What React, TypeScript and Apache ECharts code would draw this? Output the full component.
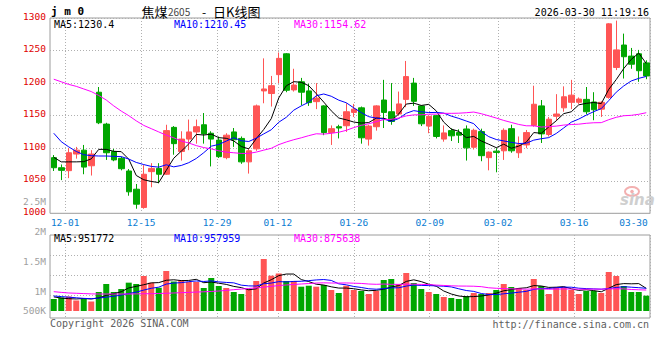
import React, { useEffect, useRef } from "react";
import * as echarts from "echarts";

// ---------- data ----------
const dates = [
  "11-27", "11-28",
  "12-01", "12-02", "12-03", "12-04", "12-05", "12-08", "12-09", "12-10", "12-11", "12-12",
  "12-15", "12-16", "12-17", "12-18", "12-19", "12-22", "12-23", "12-24", "12-25", "12-26",
  "12-29", "12-30", "12-31",
  "01-05", "01-06", "01-07", "01-08", "01-09",
  "01-12", "01-13", "01-14", "01-15", "01-16", "01-19", "01-20", "01-21", "01-22", "01-23",
  "01-26", "01-27", "01-28", "01-29", "01-30",
  "02-02", "02-03", "02-04", "02-05", "02-06",
  "02-09", "02-10", "02-11", "02-12", "02-13",
  "02-24", "02-25", "02-26", "02-27",
  "03-02", "03-03", "03-04", "03-05", "03-06", "03-09", "03-10", "03-11", "03-12", "03-13",
  "03-16", "03-17", "03-18", "03-19", "03-20", "03-23", "03-24", "03-25", "03-26", "03-27",
  "03-30",
];

const labelDates = ["12-01", "12-15", "12-29", "01-12", "01-26", "02-09", "03-02", "03-16", "03-30"];

const opens = [
  1085.5, 1070, 1065.5, 1091, 1097, 1073, 1186, 1137, 1095, 1084.5,
  1065, 1037, 1009, 1064, 1069, 1060, 1132, 1095, 1114, 1125,
  1136, 1123, 1112.5, 1085.5, 1125, 1115, 1079, 1099, 1188, 1184,
  1213, 1245, 1189.5, 1202, 1188, 1171.5, 1165, 1124, 1133, 1134.5,
  1155, 1162, 1114, 1133, 1174, 1156, 1152.5, 1175, 1200, 1165,
  1134, 1150, 1114, 1127, 1124, 1129.5, 1101.5, 1125.5, 1085.5, 1095.5,
  1096, 1130, 1093, 1105, 1135, 1165, 1121, 1149, 1162, 1170.5,
  1170.5, 1175, 1171, 1160, 1178, 1224, 1258.5, 1241.5, 1245, 1231,
];
const closes = [
  1070, 1066, 1093, 1097, 1071, 1091, 1139, 1093, 1082, 1068.5,
  1033, 1014, 1060, 1069, 1060, 1127, 1107, 1114, 1125, 1133,
  1122, 1114, 1087, 1120, 1113, 1079, 1096, 1165, 1191, 1196,
  1238, 1189, 1197, 1186, 1170, 1177, 1124, 1130, 1131, 1156,
  1160, 1116, 1134, 1165, 1155, 1141, 1168, 1210, 1172, 1137.5,
  1149, 1118, 1123.5, 1119, 1120, 1100.5, 1127.5, 1088.5, 1094, 1093.5,
  1127.5, 1096, 1105, 1124, 1167.5, 1122, 1144.5, 1152.5, 1179, 1181.5,
  1175.5, 1156, 1159, 1170.5, 1291, 1251, 1240.5, 1229, 1219, 1211,
];
const lows = [
  1065, 1051, 1054, 1084, 1060, 1058, 1137, 1082, 1080, 1066,
  1027, 1007, 1007, 1040, 1046, 1059, 1090, 1081, 1097, 1107,
  1107, 1072, 1085, 1083, 1102, 1076, 1061, 1096, 1169, 1164,
  1200, 1186, 1187, 1166, 1165, 1160, 1120, 1105, 1115, 1125,
  1148, 1107, 1104, 1127, 1131, 1136, 1150, 1163, 1165, 1134,
  1123, 1115, 1110, 1111, 1108, 1081, 1098, 1080, 1066, 1063,
  1082, 1093, 1085, 1100, 1133, 1108, 1118, 1142, 1156, 1160,
  1168, 1152, 1143, 1148, 1176, 1220, 1207, 1222, 1202, 1206,
];
const highs = [
  1089.5, 1075, 1100, 1102, 1105, 1097, 1194, 1139, 1099, 1087,
  1068, 1045, 1074, 1077, 1077, 1136, 1134, 1126, 1144, 1144,
  1154, 1126, 1118, 1123, 1131, 1118, 1100, 1167, 1238, 1211,
  1247, 1246, 1222, 1208, 1199, 1200, 1166, 1135, 1136, 1169,
  1168, 1164, 1136, 1166, 1205, 1200, 1187, 1234, 1208, 1166,
  1150, 1151, 1135, 1130.5, 1129, 1135, 1130, 1130, 1095, 1100,
  1130.5, 1136, 1118, 1128, 1196, 1174, 1148, 1183, 1195, 1205,
  1178, 1194, 1186, 1172, 1292, 1296, 1276, 1254, 1251, 1235,
];
const volumes = [
  867000, 892000, 908000, 842000, 867000, 825000, 983000, 1117000, 983000, 1033000,
  1139000, 1117000, 1250000, 1139000, 1055000, 1333000, 1158000, 1183000, 1150000, 1150000,
  1050000, 1217000, 1083000, 1050000, 983000, 950000, 1033000, 1167000, 1533000, 1255000,
  1292000, 1167000, 1167000, 1072000, 1088000, 1072000, 1100000, 1017000, 967000, 1088000,
  1017000, 1000000, 950000, 1000000, 1183000, 1200000, 1117000, 1300000, 1133000, 1033000,
  983000, 950000, 900000, 883000, 867000, 917000, 967000, 950000, 967000, 1017000,
  1117000, 1067000, 1050000, 1017000, 1200000, 1083000, 950000, 1067000, 1067000, 1017000,
  950000, 1000000, 1000000, 967000, 1317000, 1250000, 1083000, 983000, 983000, 922000,
];

// moving-average values for the first days, whose windows reach before the visible range
const ma5Lead = [1086, 1079, 1079, 1079];
const ma10Lead = [1123, 1110, 1102, 1095, 1090, 1088.5, 1088, 1088, 1087.5];
const ma30Lead = [
  1206, 1202, 1198, 1195, 1191, 1187, 1181, 1174, 1165, 1157,
  1150, 1142, 1135, 1130, 1125, 1120, 1116, 1111, 1108, 1104,
  1101, 1099, 1096, 1094, 1093, 1092, 1092, 1094, 1097,
];
const vma5Lead = [902000, 882000, 872000, 867000];
const vma10Lead = [917000, 907000, 897000, 887000, 877000, 872000, 882000, 897000, 912000];
const vma30Lead = [
  989000, 977000, 967000, 962000, 957000, 952000, 950000, 950000, 950000, 950000,
  950000, 952000, 954000, 955000, 959000, 962000, 967000, 972000, 977000, 982000,
  987000, 992000, 1000000, 1010000, 1022000, 1032000, 1042000, 1052000, 1065000,
];

const priceMin = 1000;
const priceMax = 1300;
const priceStep = 50;
const volLabelMin = 500000;
const volLabelMax = 2500000;
const volLabelStep = 500000;

const headerTitleParts = ["焦煤", "2605", "-", "日K线图"];
const headerCode = "j m 0";
const headerTime = "2026-03-30 11:19:16";
const priceMaTexts = ["MA5:1230.4", "MA10:1210.45", "MA30:1154.62"];
const volMaTexts = ["MA5:951772", "MA10:957959", "MA30:875638"];

// ---------- helpers ----------
function movingAverage(values: number[], n: number, lead: number[]) {
  return values.map((_, i) => {
    if (i < n - 1) return lead[i];
    let s = 0;
    for (let k = i - n + 1; k <= i; k++) s += values[k];
    return Math.round((s / n) * 100) / 100;
  });
}

const RED = "#ff5555";
const GREEN = "#00a600";
const MONO = "'DejaVu Sans Mono', 'Liberation Mono', monospace";
const CJK = "'Noto Sans CJK SC', sans-serif";
const DOT = { color: "#b0b0b0", width: 1, type: [1, 2] as any };
const BORDER = "#9c9c9c";

function buildOption(): any {
  const labelSet = new Set(labelDates);
  const showLabel = (_i: number, v: string) => labelSet.has(v);
  const lastDate = dates[dates.length - 1];

  const candle = dates.map((_, i) => [opens[i], closes[i], lows[i], highs[i]]);
  const ma5 = movingAverage(closes, 5, ma5Lead);
  const ma10 = movingAverage(closes, 10, ma10Lead);
  const ma30 = movingAverage(closes, 30, ma30Lead);
  const vma5 = movingAverage(volumes, 5, vma5Lead);
  const vma10 = movingAverage(volumes, 10, vma10Lead);
  const vma30 = movingAverage(volumes, 30, vma30Lead);
  const volBars = volumes.map((v, i) => ({
    value: v,
    itemStyle: { color: closes[i] >= opens[i] ? RED : GREEN },
  }));

  // volume panel: 60px per 1,000,000, bar base at y=311
  const volBase = 1000000 - (20 / 60) * 1000000;
  const volTop = 1000000 + (56 / 60) * 1000000;

  const text = (t: string, x: number, y: number, fill: string, font: string, align = "left") => ({
    type: "text",
    x,
    y,
    silent: true,
    z: 10,
    style: {
      text: t,
      fill,
      font,
      align,
      verticalAlign: "middle",
      textAlign: align,
      textVerticalAlign: "middle",
    },
  });

  const lineSeries = (name: string, data: number[], color: string, xi: number, yi: number) => ({
    name,
    type: "line",
    xAxisIndex: xi,
    yAxisIndex: yi,
    data,
    symbol: "none",
    showSymbol: false,
    smooth: false,
    clip: true,
    lineStyle: { color, width: 1 },
    itemStyle: { color },
    silent: true,
    z: 3,
  });

  const hiddenCat = (gridIndex: number, boundaryGap: boolean) => ({
    gridIndex,
    type: "category",
    position: "bottom",
    data: dates,
    boundaryGap,
    show: false,
  });

  return {
    animation: false,
    backgroundColor: "#ffffff",
    grid: [
      { left: 50, top: 18, width: 600, height: 195.3, show: true, borderColor: BORDER, borderWidth: 1, backgroundColor: "transparent", outerBoundsMode: "none" },
      { left: 50, top: 235, width: 600, height: 83, show: true, borderColor: BORDER, borderWidth: 1, backgroundColor: "transparent", outerBoundsMode: "none" },
      { left: 50, top: 235, width: 600, height: 76, outerBoundsMode: "none" },
      { left: 50, top: 255, width: 600, height: 40, outerBoundsMode: "none" },
      { left: 50, top: 201, width: 600, height: 120, outerBoundsMode: "none" },
    ],
    xAxis: [
      hiddenCat(0, true),
      {
        gridIndex: 0,
        type: "category",
        position: "bottom",
        offset: 0,
        data: dates,
        boundaryGap: false,
        axisLine: { show: false },
        axisTick: { show: false },
        axisLabel: {
          interval: showLabel,
          color: "#0a7cd2",
          fontFamily: MONO,
          fontSize: 9.5,
          margin: 4,
          formatter: (v: string) => (v === lastDate ? `{r|${v}}` : v),
          rich: { r: { padding: [0, 33, 0, 0], color: "#0a7cd2", fontFamily: MONO, fontSize: 9.5 } },
        },
        splitLine: { show: true, interval: showLabel, lineStyle: DOT },
      },
      {
        gridIndex: 1,
        type: "category",
        position: "bottom",
        data: dates,
        boundaryGap: false,
        axisLine: { show: false },
        axisTick: { show: false },
        axisLabel: { show: false },
        splitLine: { show: true, interval: showLabel, lineStyle: DOT },
      },
      hiddenCat(2, true),
      hiddenCat(3, true),
      hiddenCat(4, true),
    ],
    yAxis: [
      {
        gridIndex: 0,
        type: "value",
        position: "left",
        min: priceMin,
        max: priceMax,
        interval: priceStep,
        axisLine: { show: false },
        axisTick: { show: false },
        axisLabel: {
          color: "#e00000",
          fontFamily: MONO,
          fontSize: 9.5,
          margin: 4,
          formatter: (v: number) => `{a|${v}}`,
          rich: { a: { padding: [0, 0, 4, 0], color: "#e00000", fontFamily: MONO, fontSize: 9.5 } },
        },
        splitLine: { show: true, lineStyle: DOT },
      },
      { gridIndex: 1, type: "value", show: false },
      { gridIndex: 2, type: "value", min: volBase, max: volTop, show: false },
      {
        gridIndex: 3,
        type: "value",
        min: 0,
        max: 2,
        interval: 1,
        axisLine: { show: false },
        axisTick: { show: false },
        axisLabel: { show: false },
        splitLine: { show: true, lineStyle: DOT },
      },
      {
        gridIndex: 4,
        type: "value",
        position: "left",
        min: volLabelMin,
        max: volLabelMax,
        interval: volLabelStep,
        axisLine: { show: false },
        axisTick: { show: false },
        splitLine: { show: false },
        axisLabel: {
          color: "#a0a0a0",
          fontFamily: MONO,
          fontSize: 9.5,
          margin: 4,
          formatter: (v: number) =>
            v >= 1000000 ? `{a|${v / 1000000}M}` : `{b|${v / 1000}K}`,
          rich: {
            a: { color: "#a0a0a0", fontFamily: MONO, fontSize: 9.5 },
            b: { color: "#a0a0a0", fontFamily: MONO, fontSize: 9.5, padding: [0, 0, 22, 0] },
          },
        },
      },
    ],
    series: [
      {
        name: "K",
        type: "candlestick",
        xAxisIndex: 0,
        yAxisIndex: 0,
        data: candle,
        barWidth: 6,
        silent: true,
        itemStyle: { color: RED, color0: GREEN, borderColor: RED, borderColor0: GREEN, borderWidth: 1 },
        z: 2,
      },
      lineSeries("MA5", ma5, "#000000", 0, 0),
      lineSeries("MA10", ma10, "#0000ff", 0, 0),
      lineSeries("MA30", ma30, "#ff00ff", 0, 0),
      {
        name: "VOL",
        type: "bar",
        xAxisIndex: 3,
        yAxisIndex: 2,
        data: volBars,
        barWidth: 6,
        clip: true,
        silent: true,
        z: 2,
      },
      lineSeries("VMA5", vma5, "#000000", 3, 2),
      lineSeries("VMA10", vma10, "#0000ff", 3, 2),
      lineSeries("VMA30", vma30, "#ff00ff", 3, 2),
    ],
    graphic: [
      text(headerCode, 51, 11.5, "#000000", `bold 11px ${MONO}`),
      text(headerTitleParts[0], 141.5, 11, "#000000", `13px ${CJK}`),
      text(headerTitleParts[1], 168, 11.5, "#454545", `10px ${CJK}`),
      text(headerTitleParts[2], 202, 11, "#000000", `12px ${CJK}`),
      text(headerTitleParts[3], 213, 11, "#000000", `13px ${CJK}`),
      text(headerTime, 649, 12, "#000000", `10px ${MONO}`, "right"),
      text(priceMaTexts[0], 54, 24.5, "#000000", `10px ${MONO}`),
      text(priceMaTexts[1], 174, 24.5, "#0000ff", `10px ${MONO}`),
      text(priceMaTexts[2], 294, 24.5, "#ff00ff", `10px ${MONO}`),
      text(volMaTexts[0], 54, 238.5, "#000000", `10px ${MONO}`),
      text(volMaTexts[1], 174, 238.5, "#0000ff", `10px ${MONO}`),
      text(volMaTexts[2], 294, 238.5, "#ff00ff", `10px ${MONO}`),
      text("Copyright 2026 SINA.COM", 50, 323.5, "#606060", `10px ${MONO}`),
      text("http://finance.sina.com.cn", 649, 324, "#606060", `10px ${MONO}`, "right"),
      {
        type: "ellipse",
        silent: true,
        z: 1,
        shape: { cx: 632, cy: 191.5, rx: 7, ry: 4.5 },
        style: { fill: "none", stroke: "#f3b0b0", lineWidth: 2 },
      },
      {
        type: "circle",
        silent: true,
        z: 1,
        shape: { cx: 632, cy: 191.5, r: 1.8 },
        style: { fill: "#f3b0b0" },
      },
      text("sina", 620, 200, "#cfcfcf", "italic bold 15px 'DejaVu Sans', sans-serif"),
    ],
  };
}

export default function App() {
  const ref = useRef<HTMLDivElement>(null);
  useEffect(() => {
    if (!ref.current) return;
    const chart = echarts.init(ref.current, null, { renderer: "svg" });
    chart.setOption(buildOption());
    return () => {
      chart.dispose();
    };
  }, []);
  return (
    <div
      ref={ref}
      style={{ position: "absolute", left: 0, top: 0, width: 660, height: 360, background: "#ffffff" }}
    />
  );
}
